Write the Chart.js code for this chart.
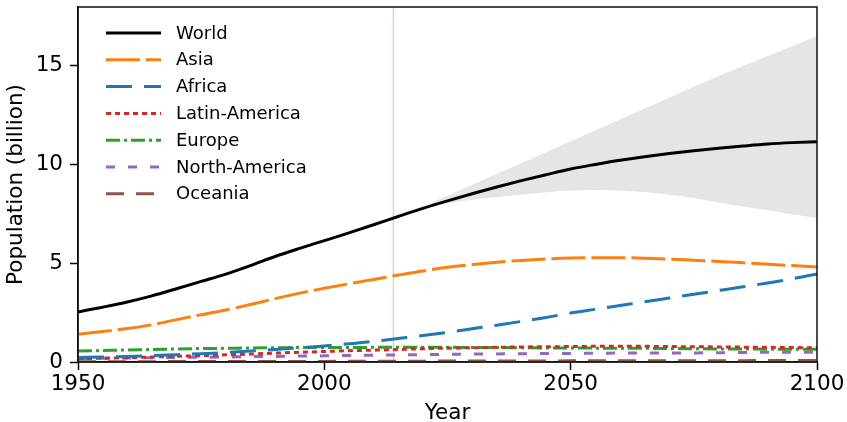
<!DOCTYPE html>
<html>
<head>
<meta charset="utf-8">
<script src="https://cdn.jsdelivr.net/npm/chart.js@4/dist/chart.umd.min.js"></script>
<style>
  html, body { margin: 0; padding: 0; background: #fff; }
  #wrap { width: 847px; height: 422px; }
</style>
</head>
<body>
<div id="wrap"><canvas id="chart" width="847" height="422"></canvas></div>
<script>
// Years on the x axis (5-year steps)
const years = [1950, 1955, 1960, 1965, 1970, 1975, 1980, 1985, 1990, 1995, 2000, 2005, 2010, 2015, 2020, 2025,
    2030, 2035, 2040, 2045, 2050, 2055, 2060, 2065, 2070, 2075, 2080, 2085, 2090, 2095, 2100];

// Population in billions
const world = [2.53, 2.77, 3.03, 3.34, 3.70, 4.07, 4.44, 4.87, 5.33, 5.74, 6.13, 6.52, 6.93, 7.35, 7.76, 8.14,
    8.50, 8.84, 9.16, 9.46, 9.75, 9.98, 10.19, 10.37, 10.53, 10.67, 10.80, 10.91, 11.01, 11.08, 11.13];
const asia = [1.40, 1.54, 1.69, 1.88, 2.14, 2.39, 2.63, 2.90, 3.20, 3.48, 3.72, 3.95, 4.17, 4.39, 4.60, 4.78,
    4.92, 5.04, 5.13, 5.20, 5.25, 5.27, 5.27, 5.24, 5.20, 5.14, 5.08, 5.01, 4.94, 4.87, 4.80];
const africa = [0.23, 0.25, 0.28, 0.32, 0.37, 0.42, 0.48, 0.55, 0.63, 0.72, 0.81, 0.92, 1.04, 1.19, 1.34, 1.50,
    1.68, 1.86, 2.05, 2.25, 2.48, 2.66, 2.85, 3.04, 3.23, 3.42, 3.61, 3.80, 3.99, 4.20, 4.45];
const latinAmerica = [0.17, 0.19, 0.22, 0.25, 0.29, 0.32, 0.36, 0.40, 0.45, 0.49, 0.53, 0.57, 0.60, 0.63, 0.67, 0.70,
    0.72, 0.74, 0.76, 0.77, 0.78, 0.79, 0.79, 0.79, 0.78, 0.77, 0.76, 0.75, 0.74, 0.73, 0.72];
const europe = [0.55, 0.58, 0.61, 0.63, 0.66, 0.68, 0.69, 0.71, 0.72, 0.73, 0.73, 0.73, 0.74, 0.74, 0.74, 0.74,
    0.73, 0.73, 0.72, 0.71, 0.71, 0.70, 0.69, 0.69, 0.68, 0.67, 0.66, 0.66, 0.65, 0.65, 0.65];
const northAmerica = [0.17, 0.19, 0.20, 0.22, 0.23, 0.24, 0.25, 0.27, 0.28, 0.30, 0.31, 0.33, 0.34, 0.36, 0.37, 0.39,
    0.40, 0.41, 0.42, 0.43, 0.43, 0.44, 0.45, 0.45, 0.46, 0.46, 0.47, 0.48, 0.49, 0.49, 0.50];
const oceania = [0.013, 0.014, 0.016, 0.018, 0.020, 0.021, 0.023, 0.025, 0.027, 0.029, 0.031, 0.034, 0.037, 0.039, 0.043, 0.045,
    0.048, 0.051, 0.053, 0.055, 0.057, 0.059, 0.061, 0.063, 0.064, 0.066, 0.067, 0.069, 0.070, 0.071, 0.072];

// Uncertainty band around the world projection (from 2015 on)
const bandYears = [2015, 2020, 2025, 2030, 2035, 2040, 2045, 2050, 2055, 2060, 2065, 2070, 2075, 2080, 2085, 2090, 2095, 2100];
const bandUpper = [7.35, 7.85, 8.40, 8.95, 9.50, 10.05, 10.60, 11.15, 11.70, 12.25, 12.80, 13.35, 13.90, 14.45, 14.95, 15.45, 15.95, 16.46];
const bandLower = [7.35, 7.75, 8.00, 8.20, 8.33, 8.45, 8.57, 8.66, 8.69, 8.66, 8.58, 8.45, 8.28, 8.05, 7.85, 7.66, 7.46, 7.27];

// Year marked by the thin vertical line
const markerYear = 2014;

const xTicks = [1950, 2000, 2050, 2100];
const yTicks = [0, 5, 10, 15];

const FONT = 'DejaVu Sans';

function pts(xs, ys) {
    return xs.map((x, i) => ({ x: x, y: ys[i] }));
}

function series(label, values, color, dash) {
    return {
        label: label,
        data: pts(years, values),
        borderColor: color,
        backgroundColor: color,
        borderWidth: 3,
        borderDash: dash,
        pointRadius: 0,
        cubicInterpolationMode: 'monotone',
        fill: false,
        order: 1
    };
}

const datasets = [
    series('World', world, '#000000', []),
    series('Asia', asia, '#ff7f0e', [34, 6]),
    series('Africa', africa, '#1f77b4', [26, 12]),
    series('Latin-America', latinAmerica, '#d62728', [5, 4]),
    series('Europe', europe, '#2ca02c', [14, 4, 3, 4]),
    series('North-America', northAmerica, '#9467bd', [9, 13]),
    series('Oceania', oceania, '#8c564b', [18, 12]),
    {
        label: 'lower', skipLegend: true,
        data: pts(bandYears, bandLower),
        borderWidth: 0, pointRadius: 0, fill: false,
        cubicInterpolationMode: 'monotone', order: 10
    },
    {
        label: 'upper', skipLegend: true,
        data: pts(bandYears, bandUpper),
        borderWidth: 0, pointRadius: 0, fill: '-1',
        backgroundColor: '#e5e5e5',
        cubicInterpolationMode: 'monotone', order: 9
    }
];

// frame, marker line and legend drawn inside the plot
const decorations = {
    id: 'decorations',
    beforeDatasetsDraw(chart) {
        const ctx = chart.ctx;
        const a = chart.chartArea;
        const x = chart.scales.x.getPixelForValue(markerYear);
        ctx.save();
        ctx.strokeStyle = 'rgba(240, 110, 110, 0.55)';
        ctx.lineWidth = 1;
        ctx.beginPath();
        ctx.moveTo(x, a.top);
        ctx.lineTo(x, a.bottom);
        ctx.stroke();
        ctx.restore();
    },
    afterDraw(chart) {
        const ctx = chart.ctx;
        const a = chart.chartArea;
        ctx.save();
        ctx.strokeStyle = '#111';
        ctx.lineWidth = 1.5;
        ctx.strokeRect(a.left, a.top, a.right - a.left, a.bottom - a.top);

        // legend
        let y = 33;
        ctx.font = '18px ' + FONT;
        ctx.textBaseline = 'middle';
        ctx.textAlign = 'left';
        chart.data.datasets.forEach(ds => {
            if (ds.skipLegend) return;
            ctx.strokeStyle = ds.borderColor;
            ctx.lineWidth = ds.borderWidth;
            ctx.setLineDash(ds.borderDash);
            ctx.beginPath();
            ctx.moveTo(106, y);
            ctx.lineTo(161, y);
            ctx.stroke();
            ctx.setLineDash([]);
            ctx.fillStyle = '#000';
            ctx.fillText(ds.label, 176, y + 1);
            y += 26.8;
        });
        ctx.restore();
    }
};

new Chart(document.getElementById('chart'), {
    type: 'line',
    data: { datasets: datasets },
    plugins: [decorations],
    options: {
        responsive: false,
        animation: false,
        layout: { padding: { top: 7, right: 30, left: 0, bottom: 0 } },
        plugins: {
            legend: { display: false },
            tooltip: { enabled: false },
            filler: { propagate: false }
        },
        scales: {
            x: {
                type: 'linear',
                min: 1950,
                max: 2100,
                afterFit: s => { s.height = 60; s.paddingLeft = 0; s.paddingRight = 0; },
                afterBuildTicks: s => { s.ticks = xTicks.map(v => ({ value: v })); },
                ticks: { color: '#000', font: { family: FONT, size: 21.5 }, padding: 2, maxRotation: 0, callback: v => String(v) },
                grid: { drawOnChartArea: false, tickLength: 8, tickColor: '#000', tickWidth: 1.5 },
                border: { color: '#111', width: 1.5 },
                title: { display: true, text: 'Year', color: '#000', font: { family: FONT, size: 21.5, lineHeight: 0.8 }, padding: 0 }
            },
            y: {
                min: 0,
                max: 17.93,
                afterFit: s => { s.width = 78; s.paddingTop = 0; s.paddingBottom = 0; },
                afterBuildTicks: s => { s.ticks = yTicks.map(v => ({ value: v })); },
                ticks: { color: '#000', font: { family: FONT, size: 21.5 }, padding: 7, callback: v => String(v) },
                grid: { drawOnChartArea: false, tickLength: 8, tickColor: '#000', tickWidth: 1.5 },
                border: { color: '#111', width: 1.5 },
                title: { display: true, text: 'Population (billion)', color: '#000', font: { family: FONT, size: 21.5, lineHeight: 1.2 }, padding: { top: 4, bottom: 0 } }
            }
        }
    }
});
</script>
</body>
</html>
